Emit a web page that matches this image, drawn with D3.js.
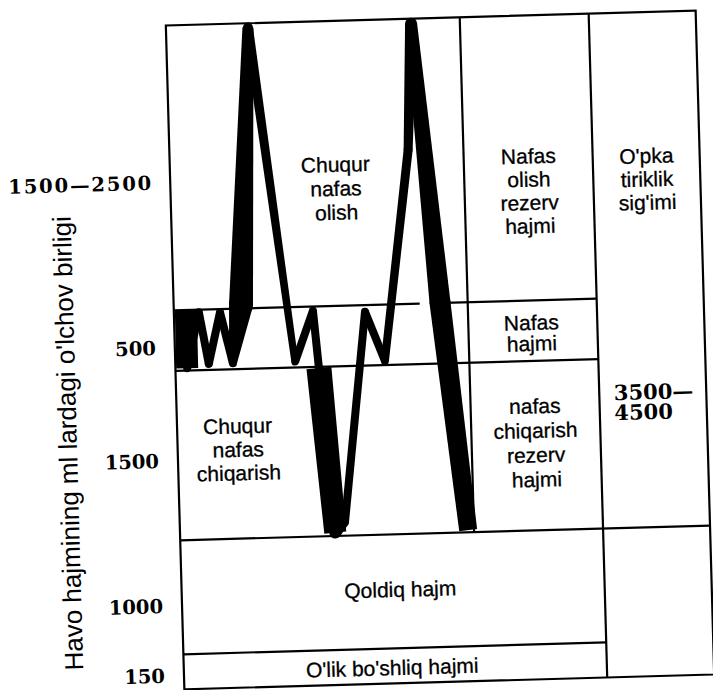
<!DOCTYPE html>
<html><head><meta charset="utf-8">
<script src="https://cdn.jsdelivr.net/npm/d3@7/dist/d3.min.js"></script>
<style>html,body{margin:0;padding:0;background:#fff;} svg{display:block}</style>
</head><body>
<svg id="chart" width="713" height="690"></svg>
<script>
// ---------------- data ----------------
// lung volume bands, cumulative ml from the bottom of the chart
const bandEdges = [0, 150, 1150, 2650, 3150, 5150];
const bandNames = ["O'lik bo'shliq hajmi", "Qoldiq hajm", "nafas chiqarish rezerv hajmi", "Nafas hajmi", "Nafas olish rezerv hajmi"];
// axis labels and where they sit on the volume axis
const tickLabels = ["150", "1000", "1500", "500", "1500—2500"];
const tickAt = [30, 515, 1795, 2785, 4000];
const vitalCapacity = ["3500—", "4500"];
const axisTitle = "Havo hajmining ml lardagi o'lchov birligi";
// spirogram trace: time (arbitrary units 0..100) and lung volume (ml, cumulative)
const traceTime   = [4.1, 4.0, 8.5, 11.4, 15.7, 19.6, 22.9, 27.9, 40.7, 47.3, 48.8, 52.8, 56.2, 65.0, 71.3, 81.2, 83.4, 90.6, 98.0];
const traceVolume = [3150, 2670, 3130, 2700, 3125, 2700, 3175, 5120, 2695, 3115, 2640, 1180, 1270, 3095, 2685, 4230, 5115, 3150, 1170];

// ---------------- layout / style ----------------
const L = 175, R = 705, T = 18, B = 682, D1 = 469, D2 = 598;
const svg = d3.select("#chart");
svg.append("rect").attr("width", 713).attr("height", 690).attr("fill", "#fff");
const g = svg.append("g").attr("transform", "rotate(-1.6,440,350)");

const x = d3.scaleLinear().domain([0, 100]).range([L, D1]);
const y = d3.scaleLinear().domain(bandEdges).range([B, 647, 533, 363.5, 303, T]);

const sans = "'Liberation Sans', Arial, Helvetica, sans-serif";
const serif = "'DejaVu Serif', serif";
const lw = 2.2;

// grid lines
const hLines = [
  [y(bandEdges[4]), L, 421], [y(bandEdges[4]), 445, D2],
  [y(bandEdges[3]), L, D2],
  [y(bandEdges[2]), L, R],
  [y(bandEdges[1]), L, D2]
];
g.selectAll("line.h").data(hLines).join("line").attr("class", "h")
  .attr("x1", d => d[1]).attr("x2", d => d[2]).attr("y1", d => d[0]).attr("y2", d => d[0])
  .attr("stroke", "#000").attr("stroke-width", lw);
const vLines = [[D1, y(bandEdges[5]), y(bandEdges[2])], [D2, T, B]];
g.selectAll("line.v").data(vLines).join("line").attr("class", "v")
  .attr("x1", d => d[0]).attr("x2", d => d[0]).attr("y1", d => d[1]).attr("y2", d => d[2])
  .attr("stroke", "#000").attr("stroke-width", lw);
g.append("rect").attr("x", L).attr("y", T).attr("width", R - L).attr("height", B - T)
  .attr("fill", "none").attr("stroke", "#000").attr("stroke-width", lw);

// trace: variable width stroke
const segW = [[22,22],[8,8],[8,8],[8,8],[8,8],[8,24],[24,11],[10,7],[8,8],[8,8],[25,22],[12,8],[8,8],[8,8],[8,9],[9,12],[12,21],[21,18]];
const pts = traceTime.map((t, i) => [x(t), y(traceVolume[i])]);
const polys = [];
for (let i = 0; i < pts.length - 1; i++) {
  const p = pts[i], q = pts[i + 1];
  const dx = q[0] - p[0], dy = q[1] - p[1], len = Math.hypot(dx, dy);
  const nx = -dy / len, ny = dx / len;
  const [ws, we] = segW[i];
  polys.push([
    [p[0] + nx * ws / 2, p[1] + ny * ws / 2],
    [q[0] + nx * we / 2, q[1] + ny * we / 2],
    [q[0] - nx * we / 2, q[1] - ny * we / 2],
    [p[0] - nx * ws / 2, p[1] - ny * ws / 2]
  ]);
}
g.selectAll("polygon.tr").data(polys).join("polygon").attr("class", "tr")
  .attr("points", d => d.map(c => c.join(",")).join(" ")).attr("fill", "#000");
const joints = pts.slice(1, -1).map((p, i) => ({p, r: Math.min(segW[i][1], segW[i + 1][0]) / 2}));
g.selectAll("circle.j").data(joints).join("circle").attr("class", "j")
  .attr("cx", d => d.p[0]).attr("cy", d => d.p[1]).attr("r", d => d.r).attr("fill", "#000");

// tick labels
g.selectAll("text.tick").data(tickLabels).join("text").attr("class", "tick")
  .attr("x", 156).attr("y", (d, i) => y(tickAt[i]))
  .attr("text-anchor", "end").attr("font-family", serif).attr("font-weight", "bold")
  .attr("font-size", 19.5)
  .attr("textLength", d => d.length > 5 ? 143 : null)
  .attr("lengthAdjust", "spacing")
  .text(d => d);

// vital capacity label
g.selectAll("text.vc").data(vitalCapacity).join("text").attr("class", "vc")
  .attr("x", 612.6).attr("y", (d, i) => 405 + i * 20)
  .attr("font-family", serif).attr("font-weight", "bold").attr("font-size", 21)
  .text(d => d);

// axis title
g.append("text").attr("transform", "translate(74.4,433) rotate(-90)")
  .attr("text-anchor", "middle").attr("font-family", sans).attr("font-size", 26)
  .text(axisTitle);

// section labels
const sections = [
  {lines: ["Chuqur", "nafas", "olish"], cx: 340.5, y0: 169, dy: 24},
  {lines: bandNames[4].split(" "), cx: 533.7, y0: 166, dy: 23.3},
  {lines: ["O'pka", "tiriklik", "sig'imi"], cx: 651.7, y0: 169, dy: 23.3},
  {lines: bandNames[3].split(" "), cx: 532, y0: 332.5, dy: 21},
  {lines: bandNames[2].split(" "), cx: 533.2, y0: 416, dy: 24.5},
  {lines: ["Chuqur", "nafas", "chiqarish"], cx: 235.5, y0: 427.7, dy: 23.5},
  {lines: [bandNames[1]], cx: 393.6, y0: 595.6, dy: 0},
  {lines: [bandNames[0]], cx: 383.4, y0: 673.7, dy: 0}
];
sections.forEach(s => {
  g.append("g").selectAll("text").data(s.lines).join("text")
    .attr("x", s.cx).attr("y", (d, i) => s.y0 + i * s.dy)
    .attr("text-anchor", "middle").attr("font-family", sans).attr("font-size", 21)
    .attr("stroke", "#000").attr("stroke-width", 0.3)
    .text(d => d);
});
</script>
</body></html>
